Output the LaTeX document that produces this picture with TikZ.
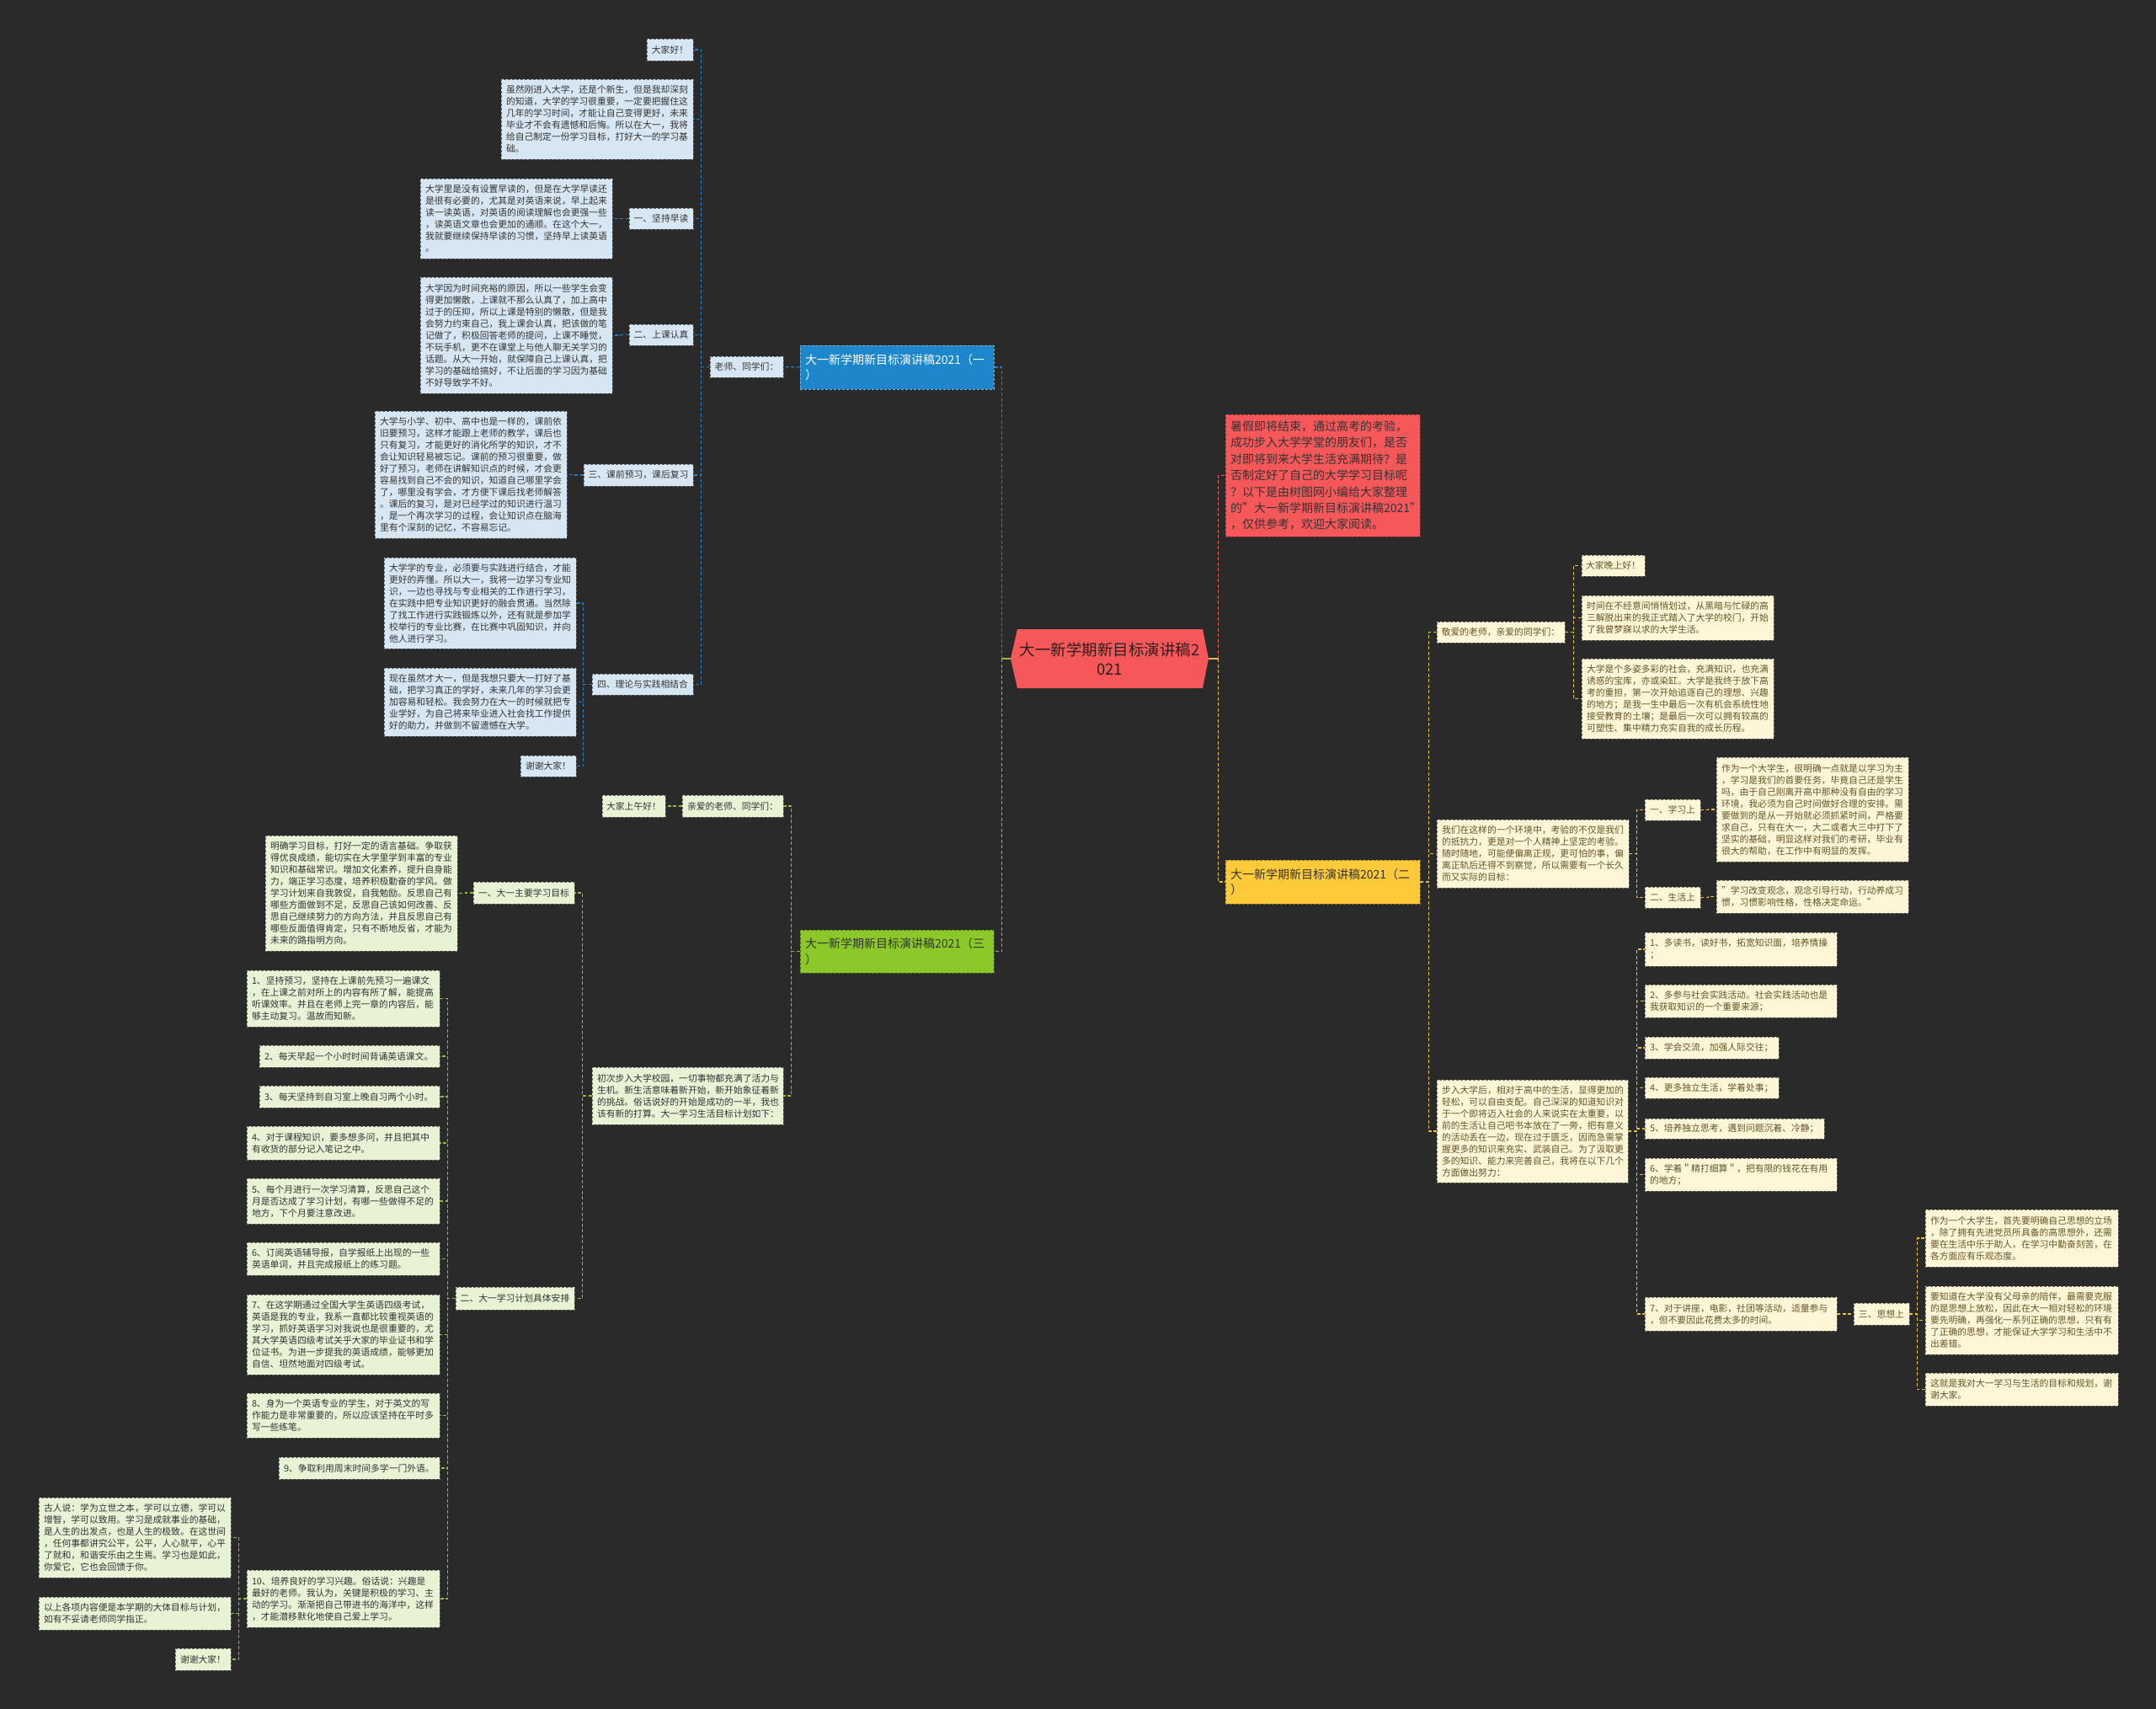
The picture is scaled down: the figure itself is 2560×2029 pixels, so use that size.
\documentclass[tikz,border=0pt]{standalone}
\usepackage{fontspec}
\setmainfont{Noto Sans CJK SC}
\definecolor{bgc}{RGB}{42,42,42}
\definecolor{rootc}{RGB}{246,88,90}
\definecolor{bluec}{RGB}{30,134,202}
\definecolor{greenc}{RGB}{140,200,42}
\definecolor{yellowc}{RGB}{255,202,58}
\definecolor{bsubfill}{RGB}{214,231,243}
\definecolor{gsubfill}{RGB}{232,242,213}
\definecolor{ysubfill}{RGB}{255,246,216}
\definecolor{subtext}{RGB}{51,51,51}
\definecolor{ysubtext}{RGB}{100,84,38}
\definecolor{blinec}{RGB}{45,125,190}
\definecolor{glinec}{RGB}{150,185,62}
\definecolor{ylinec}{RGB}{228,192,72}
\definecolor{rlinec}{RGB}{236,96,96}
\tikzset{
  subbase/.style={draw, dash pattern=on 3pt off 2pt, line width=0.9pt, font=\fontsize{10.8}{14}\selectfont},
  bsub/.style={subbase, fill=bsubfill, draw=bsubfill!45!black, text=subtext},
  gsub/.style={subbase, fill=gsubfill, draw=gsubfill!45!black, text=subtext},
  ysub/.style={subbase, fill=ysubfill, draw=ysubfill!45!black, text=ysubtext},
  mainbase/.style={draw, dash pattern=on 3pt off 2pt, line width=0.9pt, font=\fontsize{14}{18.5}\selectfont},
  mainblue/.style={mainbase, fill=bluec, draw=bluec!60!white, text=white},
  maingreen/.style={mainbase, fill=greenc, draw=greenc!55!black, text=subtext},
  mainyellow/.style={mainbase, fill=yellowc, draw=yellowc!55!black, text=subtext},
  mainred/.style={mainbase, fill=rootc, draw=rootc!55!black, text=subtext, font=\fontsize{14}{19.4}\selectfont},
  conn/.style={dash pattern=on 4pt off 2.5pt, line width=1.3pt},
  bline/.style={conn, draw=blinec},
  gline/.style={conn, draw=glinec},
  yline/.style={conn, draw=ylinec},
  rline/.style={conn, draw=rlinec},
}
\newcommand\mmbox[7]{%
  \pgfmathsetmacro\mmw{#5-#3}%
  \pgfmathsetmacro\mmh{#6-#4}%
  \pgfmathsetmacro\mmt{#5-#3-12}%
  \pgfmathsetmacro\mmx{(#3+#5)/2}%
  \pgfmathsetmacro\mmy{(#4+#6)/2}%
  \node[#1, inner xsep=6pt, inner ysep=0pt, minimum width=\mmw pt, minimum height=\mmh pt, text width=\mmt pt, align=left] (#2) at (\mmx,\mmy) {#7};}
\newcommand\mmlab[7]{%
  \pgfmathsetmacro\mmw{#5-#3}%
  \pgfmathsetmacro\mmh{#6-#4}%
  \pgfmathsetmacro\mmx{(#3+#5)/2}%
  \pgfmathsetmacro\mmy{(#4+#6)/2}%
  \node[#1, inner xsep=0pt, inner ysep=0pt, minimum width=\mmw pt, minimum height=\mmh pt, align=center] (#2) at (\mmx,\mmy) {#7};}
\begin{document}
\begin{tikzpicture}[x=1pt,y=-1pt]
\fill[bgc] (0,0) rectangle (2560,2029);
\useasboundingbox (0,0) rectangle (2560,2029);

% ---------- root ----------
\fill[rootc] (1208,747) -- (1428,747) -- (1435,782) -- (1428,817) -- (1208,817) -- (1200,782) -- cycle;
\node[font=\fontsize{18.5}{23}\selectfont, text={rgb,255:red,45;green,30;blue,30}, align=center, minimum width=235pt, minimum height=70pt, inner sep=0pt] (root) at (1317.5,782) {大一新学期新目标演讲稿2\\021};

% ---------- main nodes ----------
\mmbox{mainblue}{one}{950}{410}{1180}{462}{大一新学期新目标演讲稿2021（一\\）}
\mmbox{maingreen}{three}{950}{1104}{1180}{1155}{大一新学期新目标演讲稿2021（三\\）}
\mmbox{mainyellow}{two}{1455}{1021}{1686}{1073}{大一新学期新目标演讲稿2021（二\\）}
\mmbox{mainred}{intro}{1455}{492}{1686}{637}{暑假即将结束，通过高考的考验，\\成功步入大学学堂的朋友们，是否\\对即将到来大学生活充满期待？是\\否制定好了自己的大学学习目标呢\\？以下是由树图网小编给大家整理\\的"大一新学期新目标演讲稿2021"\\，仅供参考，欢迎大家阅读。}

% ---------- blue branch ----------
\mmlab{bsub}{ls}{843}{423}{930}{448}{老师、同学们：}
\mmlab{bsub}{b0}{768}{46}{823}{72}{大家好！}
\mmbox{bsub}{b1}{595}{94}{823}{189}{虽然刚进入大学，还是个新生，但是我却深刻\\的知道，大学的学习很重要，一定要把握住这\\几年的学习时间，才能让自己变得更好，未来\\毕业才不会有遗憾和后悔。所以在大一，我将\\给自己制定一份学习目标，打好大一的学习基\\础。}
\mmlab{bsub}{b2}{747}{247}{823}{272}{一、坚持早读}
\mmbox{bsub}{b2t}{499}{212}{727}{307}{大学里是没有设置早读的，但是在大学早读还\\是很有必要的，尤其是对英语来说，早上起来\\读一读英语，对英语的阅读理解也会更强一些\\，读英语文章也会更加的通顺。在这个大一，\\我就要继续保持早读的习惯，坚持早上读英语\\。}
\mmlab{bsub}{b3}{747}{385}{823}{410}{二、上课认真}
\mmbox{bsub}{b3t}{499}{329}{727}{467}{大学因为时间充裕的原因，所以一些学生会变\\得更加懒散，上课就不那么认真了，加上高中\\过于的压抑，所以上课是特别的懒散，但是我\\会努力约束自己，我上课会认真，把该做的笔\\记做了，积极回答老师的提问，上课不睡觉，\\不玩手机，更不在课堂上与他人聊无关学习的\\话题。从大一开始，就保障自己上课认真，把\\学习的基础给搞好，不让后面的学习因为基础\\不好导致学不好。}
\mmlab{bsub}{b4}{693}{551}{823}{577}{三、课前预习，课后复习}
\mmbox{bsub}{b4t}{445}{488}{673}{639}{大学与小学、初中、高中也是一样的，课前依\\旧要预习，这样才能跟上老师的教学，课后也\\只有复习，才能更好的消化所学的知识，才不\\会让知识轻易被忘记。课前的预习很重要，做\\好了预习，老师在讲解知识点的时候，才会更\\容易找到自己不会的知识，知道自己哪里学会\\了，哪里没有学会，才方便下课后找老师解答\\。课后的复习，是对已经学过的知识进行温习\\，是一个再次学习的过程，会让知识点在脑海\\里有个深刻的记忆，不容易忘记。}
\mmlab{bsub}{b5}{703}{800}{823}{825}{四、理论与实践相结合}
\mmbox{bsub}{b5a}{456}{662}{684}{770}{大学学的专业，必须要与实践进行结合，才能\\更好的弄懂。所以大一，我将一边学习专业知\\识，一边也寻找与专业相关的工作进行学习，\\在实践中把专业知识更好的融会贯通。当然除\\了找工作进行实践锻炼以外，还有就是参加学\\校举行的专业比赛，在比赛中巩固知识，并向\\他人进行学习。}
\mmbox{bsub}{b5b}{456}{793}{684}{874}{现在虽然才大一，但是我想只要大一打好了基\\础，把学习真正的学好，未来几年的学习会更\\加容易和轻松。我会努力在大一的时候就把专\\业学好，为自己将来毕业进入社会找工作提供\\好的助力，并做到不留遗憾在大学。}
\mmlab{bsub}{b5c}{618}{897}{684}{922}{谢谢大家！}

% ---------- green branch ----------
\mmlab{gsub}{g0}{715}{944}{790}{970}{大家上午好！}
\mmlab{gsub}{g1}{810}{944}{930}{970}{亲爱的老师、同学们：}
\mmbox{gsub}{g2}{703}{1267}{930}{1335}{初次步入大学校园，一切事物都充满了活力与\\生机。新生活意味着新开始，新开始象征着新\\的挑战。俗话说好的开始是成功的一半，我也\\该有新的打算。大一学习生活目标计划如下：}
\mmlab{gsub}{g3}{562}{1047}{682}{1073}{一、大一主要学习目标}
\mmbox{gsub}{g3t}{315}{992}{543}{1129}{明确学习目标，打好一定的语言基础。争取获\\得优良成绩，能切实在大学里学到丰富的专业\\知识和基础常识。增加文化素养，提升自身能\\力，端正学习态度，培养积极勤奋的学风。做\\学习计划来自我敦促，自我勉励。反思自己有\\哪些方面做到不足，反思自己该如何改善、反\\思自己继续努力的方向方法，并且反思自己有\\哪些反面值得肯定，只有不断地反省，才能为\\未来的路指明方向。}
\mmlab{gsub}{g4}{541}{1528}{682}{1555}{二、大一学习计划具体安排}
\mmbox{gsub}{i1}{293}{1152}{522}{1219}{1、坚持预习，坚持在上课前先预习一遍课文\\，在上课之前对所上的内容有所了解，能提高\\听课效率。并且在老师上完一章的内容后，能\\够主动复习。温故而知新。}
\mmbox{gsub}{i2}{308}{1241}{522}{1267}{2、每天早起一个小时时间背诵英语课文。}
\mmbox{gsub}{i3}{308}{1289}{522}{1315}{3、每天坚持到自习室上晚自习两个小时。}
\mmbox{gsub}{i4}{293}{1337}{522}{1377}{4、对于课程知识，要多想多问，并且把其中\\有收货的部分记入笔记之中。}
\mmbox{gsub}{i5}{293}{1399}{522}{1453}{5、每个月进行一次学习清算，反思自己这个\\月是否达成了学习计划，有哪一些做得不足的\\地方，下个月要注意改进。}
\mmbox{gsub}{i6}{293}{1475}{522}{1514}{6、订阅英语辅导报，自学报纸上出现的一些\\英语单词，并且完成报纸上的练习题。}
\mmbox{gsub}{i7}{293}{1537}{522}{1632}{7、在这学期通过全国大学生英语四级考试，\\英语是我的专业，我系一直都比较重视英语的\\学习，抓好英语学习对我说也是很重要的，尤\\其大学英语四级考试关乎大家的毕业证书和学\\位证书。为进一步提我的英语成绩，能够更加\\自信、坦然地面对四级考试。}
\mmbox{gsub}{i8}{293}{1654}{522}{1707}{8、身为一个英语专业的学生，对于英文的写\\作能力是非常重要的，所以应该坚持在平时多\\写一些练笔。}
\mmbox{gsub}{i9}{331}{1730}{522}{1756}{9、争取利用周末时间多学一门外语。}
\mmbox{gsub}{i10}{293}{1864}{522}{1932}{10、培养良好的学习兴趣。俗话说：兴趣是\\最好的老师。我认为，关键是积极的学习、主\\动的学习。渐渐把自己带进书的海洋中，这样\\，才能潜移默化地使自己爱上学习。}
\mmbox{gsub}{j1}{46}{1778}{274}{1873}{古人说：学为立世之本，学可以立德，学可以\\增智，学可以致用。学习是成就事业的基础，\\是人生的出发点，也是人生的极致。在这世间\\，任何事都讲究公平，公平，人心就平，心平\\了就和，和谐安乐由之生焉。学习也是如此，\\你爱它，它也会回馈于你。}
\mmbox{gsub}{j2}{46}{1896}{274}{1935}{以上各项内容便是本学期的大体目标与计划，\\如有不妥请老师同学指正。}
\mmlab{gsub}{j3}{208}{1957}{274}{1983}{谢谢大家！}

% ---------- yellow branch ----------
\mmlab{ysub}{y0}{1706}{738}{1858}{763}{敬爱的老师，亲爱的同学们：}
\mmlab{ysub}{y0a}{1878}{659}{1953}{684}{大家晚上好！}
\mmbox{ysub}{y0b}{1878}{707}{2106}{760}{时间在不经意间悄悄划过，从黑暗与忙碌的高\\三解脱出来的我正式踏入了大学的校门，开始\\了我曾梦寐以求的大学生活。}
\mmbox{ysub}{y0c}{1878}{782}{2106}{877}{大学是个多姿多彩的社会，充满知识，也充满\\诱惑的宝库，亦或染缸。大学是我终于放下高\\考的重担，第一次开始追逐自己的理想、兴趣\\的地方；是我一生中最后一次有机会系统性地\\接受教育的土壤；是最后一次可以拥有较高的\\可塑性、集中精力充实自我的成长历程。}
\mmbox{ysub}{y1}{1706}{973}{1934}{1054}{我们在这样的一个环境中，考验的不仅是我们\\的抵抗力，更是对一个人精神上坚定的考验。\\随时随地，可能便偏离正规，更可怕的事，偏\\离正轨后还得不到察觉，所以需要有一个长久\\而又实际的目标：}
\mmlab{ysub}{y1a}{1953}{949}{2019}{974}{一、学习上}
\mmbox{ysub}{y1at}{2038}{899}{2266}{1023}{作为一个大学生，很明确一点就是以学习为主\\，学习是我们的首要任务，毕竟自己还是学生\\吗，由于自己刚离开高中那种没有自由的学习\\环境，我必须为自己时间做好合理的安排。需\\要做到的是从一开始就必须抓紧时间，严格要\\求自己，只有在大一，大二或者大三中打下了\\坚实的基础，明显这样对我们的考研，毕业有\\很大的帮助，在工作中有明显的发挥。}
\mmlab{ysub}{y1b}{1953}{1053}{2019}{1078}{二、生活上}
\mmbox{ysub}{y1bt}{2038}{1045}{2266}{1084}{"学习改变观念，观念引导行动，行动养成习\\惯，习惯影响性格，性格决定命运。"}
\mmbox{ysub}{y2}{1706}{1282}{1933}{1404}{步入大学后，相对于高中的生活，显得更加的\\轻松，可以自由支配。自己深深的知道知识对\\于一个即将迈入社会的人来说实在太重要，以\\前的生活让自己吧书本放在了一旁，把有意义\\的活动丢在一边，现在过于匮乏，因而急需掌\\握更多的知识来充实、武装自己。为了汲取更\\多的知识、能力来完善自己，我将在以下几个\\方面做出努力：}
\mmbox{ysub}{k1}{1953}{1107}{2181}{1147}{1、多读书，读好书，拓宽知识面，培养情操\\；}
\mmbox{ysub}{k2}{1953}{1169}{2181}{1208}{2、多参与社会实践活动。社会实践活动也是\\我获取知识的一个重要来源；}
\mmbox{ysub}{k3}{1953}{1231}{2112}{1257}{3、学会交流，加强人际交往；}
\mmbox{ysub}{k4}{1953}{1279}{2112}{1304}{4、更多独立生活，学着处事；}
\mmbox{ysub}{k5}{1953}{1328}{2166}{1352}{5、培养独立思考，遇到问题沉着、冷静；}
\mmbox{ysub}{k6}{1953}{1375}{2181}{1414}{6、学着＂精打细算＂，把有限的钱花在有用\\的地方；}
\mmbox{ysub}{k7}{1953}{1540}{2181}{1580}{7、对于讲座，电影，社团等活动，适量参与\\，但不要因此花费太多的时间。}
\mmlab{ysub}{k7a}{2201}{1547}{2267}{1573}{三、思想上}
\mmbox{ysub}{m1}{2286}{1436}{2515}{1504}{作为一个大学生，首先要明确自己思想的立场\\，除了拥有先进党员所具备的高思想外，还需\\要在生活中乐于助人，在学习中勤奋刻苦，在\\各方面应有乐观态度。}
\mmbox{ysub}{m2}{2286}{1527}{2515}{1608}{要知道在大学没有父母亲的陪伴，最需要克服\\的是思想上放松，因此在大一相对轻松的环境\\要先明确，再强化一系列正确的思想，只有有\\了正确的思想，才能保证大学学习和生活中不\\出差错。}
\mmbox{ysub}{m3}{2286}{1630}{2515}{1669}{这就是我对大一学习与生活的目标和规划，谢\\谢大家。}

% ---------- connectors ----------
\draw[line width=1.3pt, draw=glinec] (root.west) -- ++(-10,0) coordinate (cl);
\draw[bline] (cl) |- (one.east);
\draw[gline] (cl) |- (three.east);
\draw[line width=1.3pt, draw=ylinec] (root.east) -- ++(11,0) coordinate (cr);
\draw[rline] (cr) |- (intro.west);
\draw[yline] (cr) |- (two.west);

\draw[bline] (one.west) -- (ls.east);
\foreach \c in {b0,b1,b2,b3,b4,b5} \draw[bline] (ls.west) -- ++(-10,0) |- (\c.east);
\draw[bline] (b2.west) -- ++(-10,0) |- (b2t.east);
\draw[bline] (b3.west) -- ++(-10,0) |- (b3t.east);
\draw[bline] (b4.west) -- ++(-10,0) |- (b4t.east);
\foreach \c in {b5a,b5b,b5c} \draw[bline] (b5.west) -- ++(-10,0) |- (\c.east);

\foreach \c in {g1,g2} \draw[gline] (three.west) -- ++(-10,0) |- (\c.east);
\draw[gline] (g1.west) -- ++(-10,0) |- (g0.east);
\foreach \c in {g3,g4} \draw[gline] (g2.west) -- ++(-11,0) |- (\c.east);
\draw[gline] (g3.west) -- ++(-9,0) |- (g3t.east);
\foreach \c in {i1,i2,i3,i4,i5,i6,i7,i8,i9,i10} \draw[gline] (g4.west) -- ++(-9,0) |- (\c.east);
\foreach \c in {j1,j2,j3} \draw[gline] (i10.west) -- ++(-9,0) |- (\c.east);

\foreach \c in {y0,y1,y2} \draw[yline] (two.east) -- ++(10,0) |- (\c.west);
\foreach \c in {y0a,y0b,y0c} \draw[yline] (y0.east) -- ++(10,0) |- (\c.west);
\foreach \c in {y1a,y1b} \draw[yline] (y1.east) -- ++(9,0) |- (\c.west);
\draw[yline] (y1a.east) -- ++(9,0) |- (y1at.west);
\draw[yline] (y1b.east) -- ++(9,0) |- (y1bt.west);
\foreach \c in {k1,k2,k3,k4,k5,k6,k7} \draw[yline] (y2.east) -- ++(10,0) |- (\c.west);
\draw[yline] (k7.east) -- ++(10,0) |- (k7a.west);
\foreach \c in {m1,m2,m3} \draw[yline] (k7a.east) -- ++(9,0) |- (\c.west);
\end{tikzpicture}
\end{document}
